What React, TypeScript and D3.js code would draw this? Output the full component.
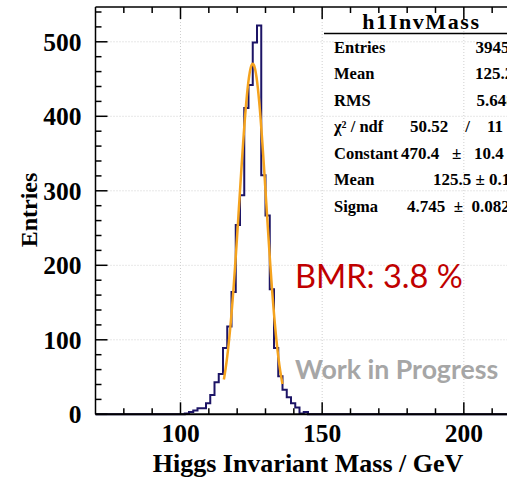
import React from "react";
import * as d3 from "d3";

// ---- data ----
const binStartEdge = 100; // low edge of first listed bin (GeV)
const binWidth = 1.5; // GeV
const counts = [
  0, 1, 3, 5, 8, 8, 15, 26, 43, 54, 89, 118, 164, 254, 294, 411, 442, 499, 522,
  321, 267, 168, 89, 51, 33, 23, 15, 9, 1, 3, 0,
];
const fitConstant = 470.4;
const fitMean = 125.5;
const fitSigma = 4.745;
const fitRange = [115.3, 136.0];
const xTicksMajor = [100, 150, 200];
const yTicksMajor = [0, 100, 200, 300, 400, 500];
const statLabels = ["Entries", "Mean", "RMS", "χ² / ndf", "Constant", "Mean", "Sigma"];
const statValues = [
  "3945",
  "125.2",
  "5.648",
  "50.52    /    11",
  "470.4   ±   10.4",
  "125.5 ± 0.1",
  "4.745  ±  0.082",
];
const statValueStart = [475.5, 475, 476.5, 410, 401, 433, 407];

const W = 507;
const H = 483;
const serif = "'Liberation Serif', 'Times New Roman', serif";

export default function App() {
  const x = d3.scaleLinear().domain([70, 220]).range([95.5, 520.5]);
  const y = d3.scaleLinear().domain([0, 546.7]).range([414.3, 7]);

  // histogram outline
  const pts: [number, number][] = [[70, 0]];
  counts.forEach((c, i) => pts.push([binStartEdge + i * binWidth, c]));
  pts.push([binStartEdge + counts.length * binWidth, 0]);
  pts.push([220, 0]);
  const histPath = d3
    .line<[number, number]>()
    .x((d) => x(d[0]))
    .y((d) => y(d[1]))
    .curve(d3.curveStepAfter)(pts) as string;

  const gx = d3.range(fitRange[0], fitRange[1] + 0.001, 0.1);
  const fitPath = d3
    .line<number>()
    .x((v) => x(v))
    .y((v) => y(fitConstant * Math.exp(-((v - fitMean) ** 2) / (2 * fitSigma * fitSigma))))
    .curve(d3.curveLinear)(gx) as string;

  const xMinor = d3.range(80, 221, 10);
  const yMinor = d3.range(20, 541, 20);
  const x0 = x(70);
  const y0 = y(0);
  const yTop = y(546.7);

  return (
    <svg
      width={W}
      height={H}
      style={{ position: "fixed", left: 0, top: 0, background: "#fff" }}
    >
      <rect x={0} y={0} width={W} height={H} fill="#fff" />
      {/* grid */}
      <g stroke="#cfcfcf" strokeWidth={1} strokeDasharray="1,2">
        {yTicksMajor
          .filter((v) => v > 0)
          .map((v) => (
            <line key={"gy" + v} x1={x0} x2={W} y1={y(v)} y2={y(v)} />
          ))}
        {xTicksMajor.map((v) => (
          <line key={"gx" + v} x1={x(v)} x2={x(v)} y1={yTop} y2={y0} />
        ))}
      </g>

      {/* stats box */}
      <g fontFamily={serif} fontWeight="bold" fill="#000">
        <text x={421.5} y={28.5} fontSize={22} letterSpacing={1.6} textAnchor="middle">
          h1InvMass
        </text>
        <line x1={324} x2={W} y1={33.5} y2={33.5} stroke="#000" strokeWidth={1.5} />
        {statLabels.map((s, i) => (
          <text key={"sl" + i} x={334} y={52.5 + i * 26.5} fontSize={16.5}>
            {s}
          </text>
        ))}
        {statValues.map((s, i) => (
          <text
            key={"sv" + i}
            x={statValueStart[i]}
            y={52.5 + i * 26.5}
            fontSize={17}
            style={{ whiteSpace: "pre" }}
          >
            {s}
          </text>
        ))}
      </g>

      {/* histogram */}
      <path d={histPath} fill="none" stroke="#1c1466" strokeWidth={2} />
      {/* fit */}
      <path d={fitPath} fill="none" stroke="#f5a31e" strokeWidth={2.5} />

      {/* frame & axes */}
      <g stroke="#000" strokeWidth={1.5}>
        <line x1={x0} x2={x0} y1={yTop} y2={y0} />
        <line x1={x0} x2={W} y1={yTop} y2={yTop} />
        <line x1={x0} x2={W} y1={y0} y2={y0} strokeWidth={2} />
        {xTicksMajor.map((v) => (
          <g key={"xt" + v}>
            <line x1={x(v)} x2={x(v)} y1={y0} y2={y0 - 12} />
            <line x1={x(v)} x2={x(v)} y1={yTop} y2={yTop + 12} />
          </g>
        ))}
        {xMinor
          .filter((v) => !xTicksMajor.includes(v))
          .map((v) => (
            <g key={"xm" + v}>
              <line x1={x(v)} x2={x(v)} y1={y0} y2={y0 - 6} />
              <line x1={x(v)} x2={x(v)} y1={yTop} y2={yTop + 6} />
            </g>
          ))}
        {yTicksMajor.map((v) => (
          <line key={"yt" + v} x1={x0} x2={x0 + 12} y1={y(v)} y2={y(v)} />
        ))}
        {yMinor
          .filter((v) => !yTicksMajor.includes(v))
          .map((v) => (
            <line key={"ym" + v} x1={x0} x2={x0 + 6} y1={y(v)} y2={y(v)} />
          ))}
      </g>

      {/* tick labels */}
      <g fontFamily={serif} fontWeight="bold" fontSize={25.5} fill="#000">
        {yTicksMajor.map((v) => (
          <text key={"yl" + v} x={81.5} y={y(v) + 9} textAnchor="end">
            {v}
          </text>
        ))}
        {xTicksMajor.map((v) => (
          <text key={"xl" + v} x={x(v)} y={441.5} textAnchor="middle">
            {v}
          </text>
        ))}
      </g>

      {/* axis titles */}
      <text
        x={308}
        y={472}
        fontFamily={serif}
        fontWeight="bold"
        fontSize={26}
        textAnchor="middle"
      >
        Higgs Invariant Mass / GeV
      </text>
      <text
        transform="translate(36.5,210) rotate(-90)"
        fontFamily={serif}
        fontWeight="bold"
        fontSize={24}
        textAnchor="middle"
      >
        Entries
      </text>

      {/* annotations */}
      <text x={295} y={287.5} fontFamily="Lato, 'Open Sans', sans-serif" fontSize={32.5} fill="#c00000">
        BMR: 3.8 %
      </text>
      <text
        x={295}
        y={378.5}
        fontFamily="Lato, 'Open Sans', sans-serif"
        fontWeight="bold"
        fontSize={26.7}
        fill="#a6a6a6"
      >
        Work in Progress
      </text>
    </svg>
  );
}
